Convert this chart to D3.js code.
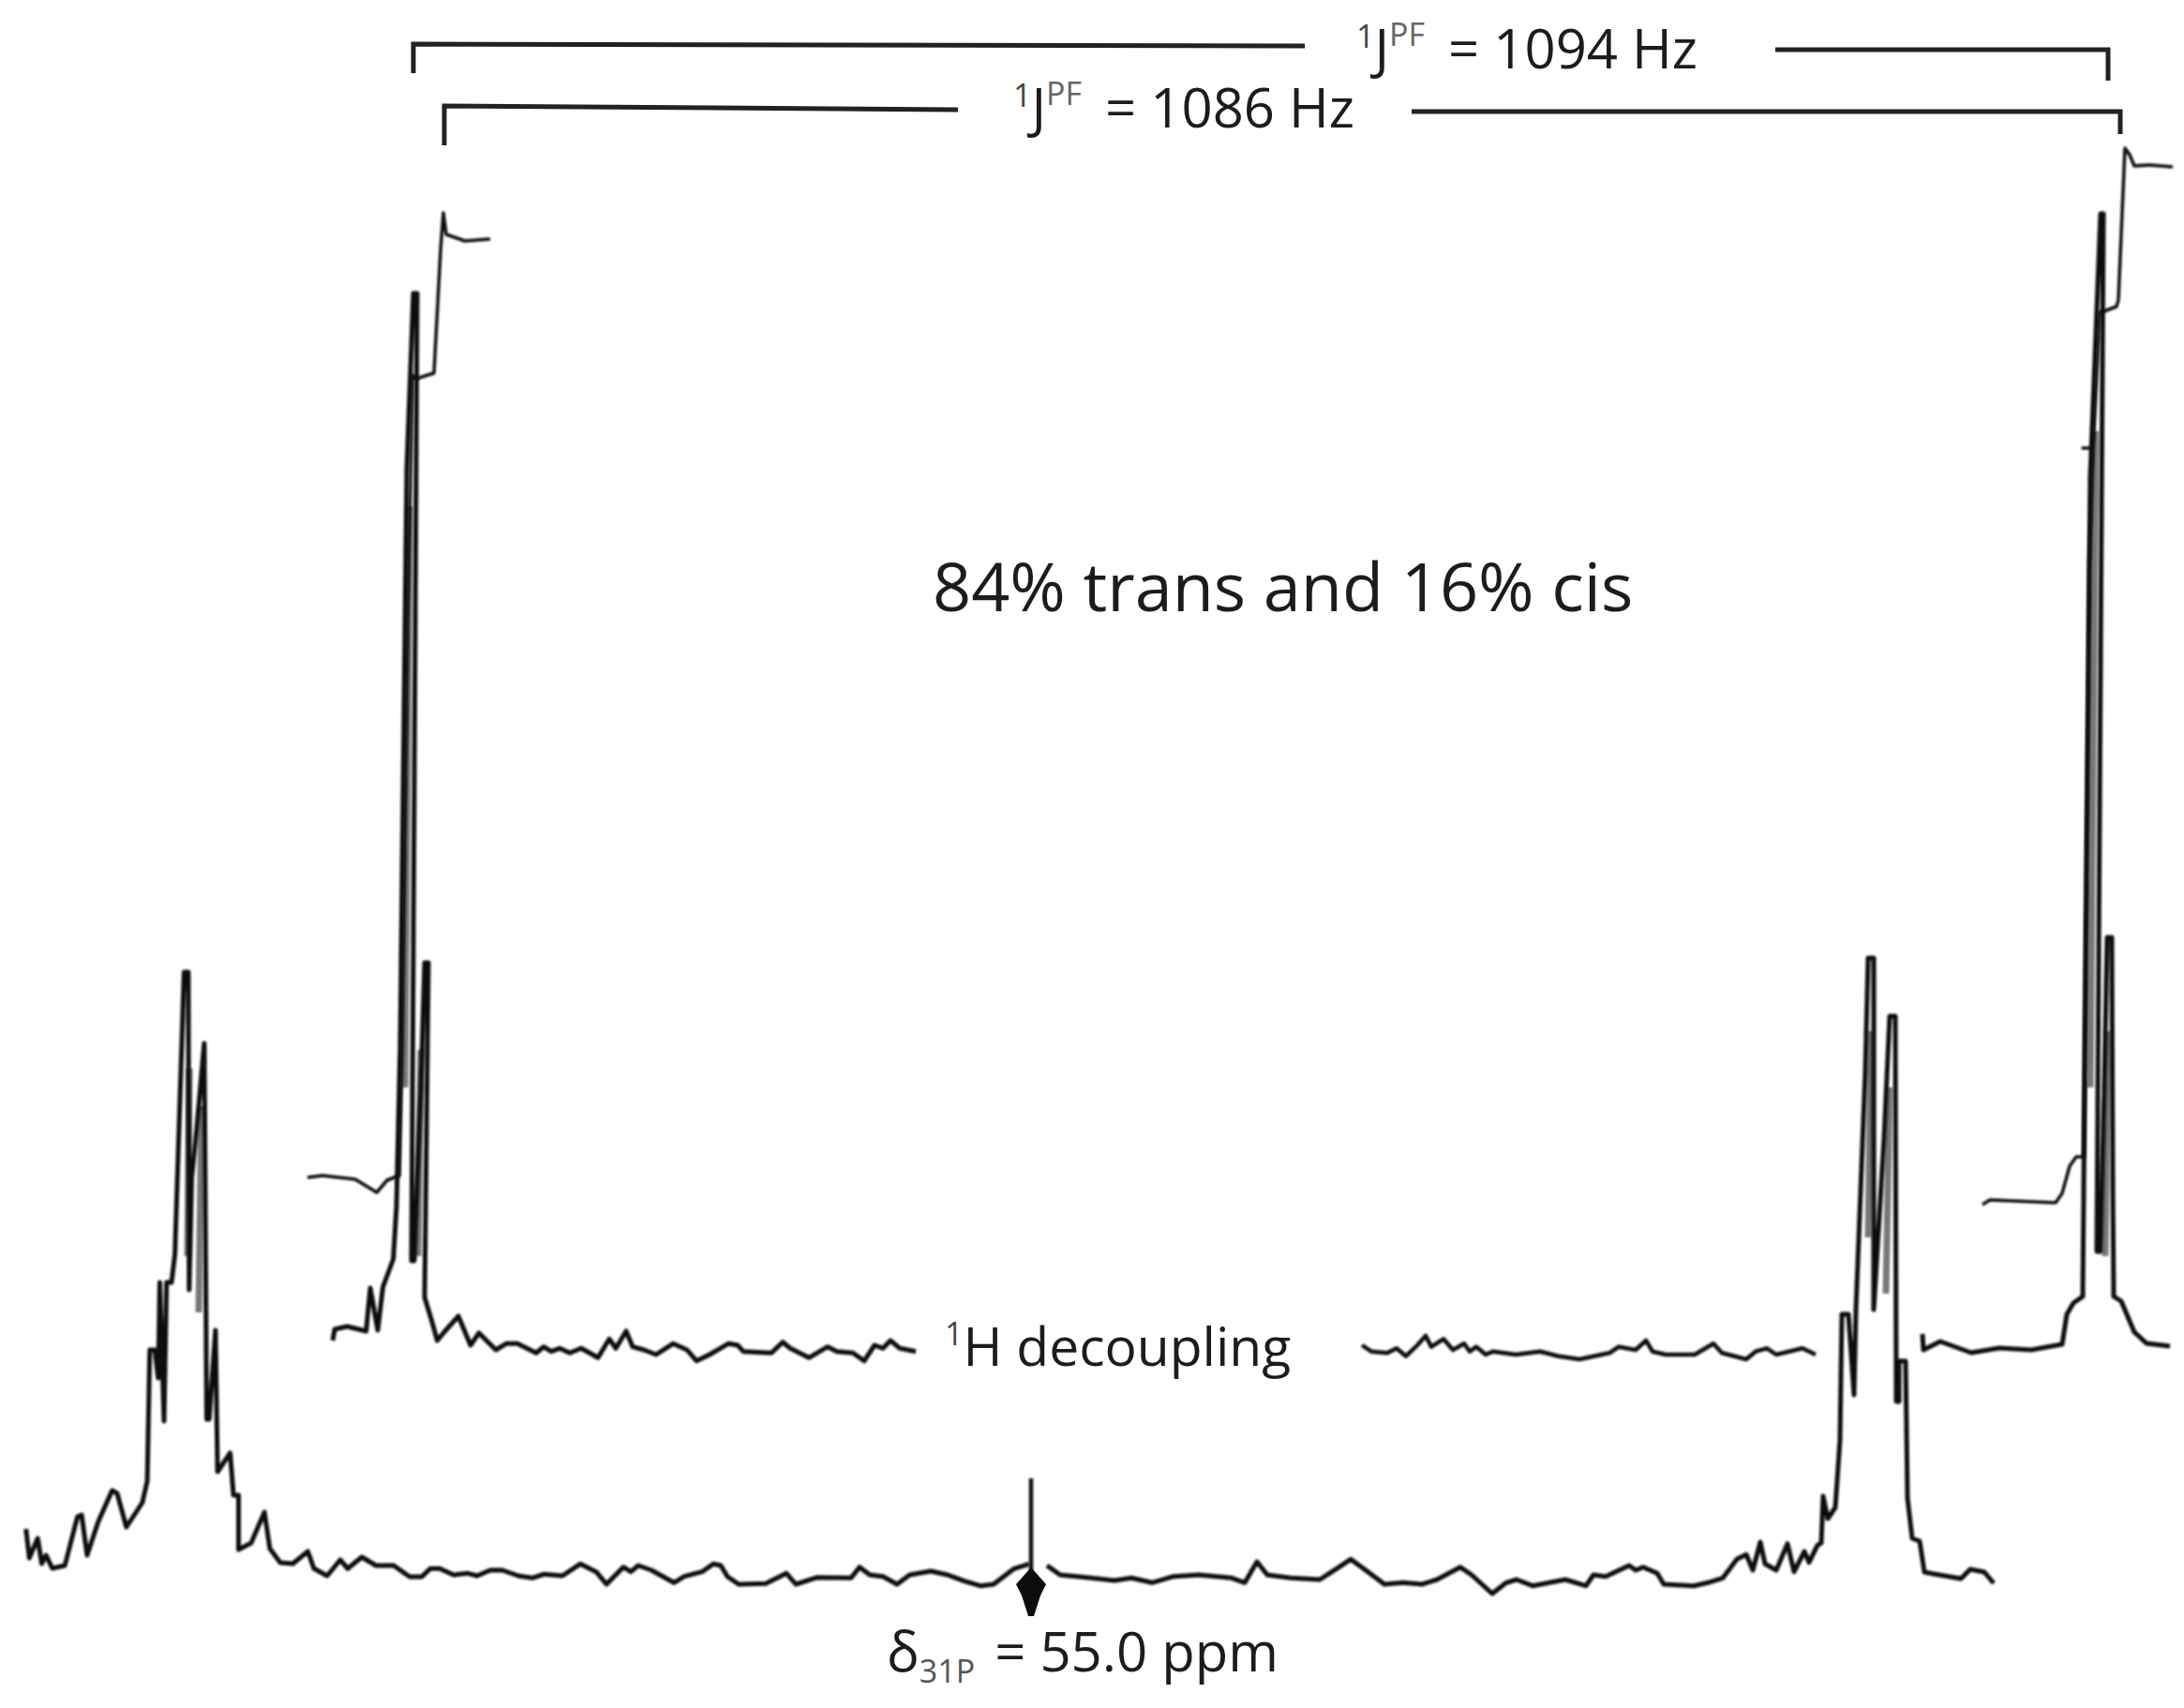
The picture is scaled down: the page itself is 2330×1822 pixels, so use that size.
<!DOCTYPE html>
<html>
<head>
<meta charset="utf-8">
<script src="https://cdn.jsdelivr.net/npm/d3@7"></script>
<style>
  html, body { margin: 0; background: #fff; }
  text { font-family: "Open Sans", sans-serif; fill: #1c1c1c; }
</style>
</head>
<body>
<div id="chart"></div>
<script>
// spectra: [chart position, intensity above the trace's own zero]
const lowerLeft = [
  [2.77,6.9],[3.13,3.8],[4.02,5.9],[4.46,3.2],[4.91,4.1],[5.58,2.7],[6.92,3.0],[8.26,8.2],[8.71,8.4],[9.29,4.1],
  [10.49,7.7],[11.96,11.0],[12.5,10.7],[13.48,7.1],[15.18,9.7],[15.71,12.0],[15.98,26.0],[16.52,26.0],[16.88,23.0],
  [17.05,33.2],[17.5,18.4],[17.77,33.2],[18.3,33.2],[18.66,36.2],[19.64,66.3],[20.09,66.3],[20.18,32.4],[20.45,44.4],
  [20.98,49.5],[21.79,58.7],[22.05,18.6],[22.32,18.6],[22.99,28.1],[23.21,13.0],[24.55,15.0],[24.91,10.5],[25.45,10.5],
  [25.45,4.7],[26.79,5.4],[28.21,8.7],[28.79,4.8],[29.91,3.3],[31.25,3.2],[32.84,4.5],[33.5,2.67],[34.9,1.9],
  [36.3,3.6],[37.1,2.67],[38.6,3.9],[40.1,3.0],[42.0,3.0],[43.7,1.8],[45.0,1.8],[45.9,2.67],[46.9,2.67],
  [48.4,2.0],[49.9,2.17],[50.9,1.9],[52.3,2.5],[53.6,2.5],[55.3,1.9],[56.8,1.67],[58.0,2.07],[60.0,1.9],
  [61.9,3.17],[63.6,2.33],[64.7,1.0],[66.5,2.83],[67.3,2.33],[68.1,3.0],[69.5,2.5],[71.9,1.17],[73.0,1.83],
  [74.9,2.33],[76.1,3.17],[76.9,3.0],[77.6,1.83],[78.8,1.0],[81.7,1.07],[83.9,2.17],[84.9,1.0],
  [87.2,1.73],[90.8,1.67],[91.7,2.83],[92.8,2.0],[94.2,1.83],[95.7,1.0],[97.05,2.0],[99.3,2.4],[101.1,2.0],
  [102.9,1.33],[104.6,0.83],[106.0,1.0],[108.2,2.67],[109.8,3.17]
];
const lowerRight = [
  [111.7,3.0],[113.1,2.0],[114.9,1.83],[117.1,1.6],[118.9,1.4],[120.7,1.67],[122.9,1.17],[125.2,1.83],[127.9,2.0],
  [131.4,1.67],[132.8,1.17],[134.1,3.4],[135.2,2.0],[137.7,1.67],[140.8,1.5],[142.6,2.67],[144.1,3.67],[145.7,2.5],
  [147.7,1.0],[149.7,1.17],[151.7,1.0],[153.3,1.5],[155.8,2.83],[157.0,2.0],[159.2,0.0],[160.7,1.17],[161.8,1.5],
  [163.5,0.83],[165.3,1.17],[167.0,1.5],[169.2,0.83],[170.0,2.0],[171.3,1.83],[173.8,3.0],[174.5,2.5],[175.3,2.83],
  [176.8,2.17],[177.5,1.0],[180.7,0.83],[182.2,1.17],[183.8,1.67],[185.3,3.67],[186.3,4.17],[187.0,2.5],[187.8,5.5],
  [188.3,3.17],[189.5,2.5],[190.7,5.33],[191.4,2.33],[192.5,4.5],[193.0,3.33],[193.9,5.17],[194.3,5.4],[194.5,10.4],
  [195.0,8.0],[195.8,9.2],[196.3,16.4],[196.5,29.8],[197.2,29.8],[197.8,21.2],[198.0,30.3],[199.0,55.6],[199.3,67.8],
  [199.9,67.8],[199.9,30.3],[200.3,37.0],[201.0,48.5],[201.6,61.6],[202.2,61.6],[202.3,20.5],[202.6,20.5],[202.6,24.8],
  [203.3,24.8],[203.5,10.2],[204.0,5.9],[204.8,5.6],[205.3,2.3],[206.3,2.1],[209.2,1.6],[210.2,2.6],[211.7,2.3],[212.7,1.1]
];
const upperLeft = [
  [35.5,3.0],[35.7,4.2],[37.05,4.5],[39.06,4.0],[39.5,8.6],[40.3,4.1],[40.85,8.7],[41.96,11.7],[42.3,17.3],[42.7,34.7],
  [43.4,96],[44.1,114.7],[44.5,114.7],[43.9,11.5],[44.2,11.5],[44.9,30],[45.3,43.3],[45.7,43.3],[45.3,7.6],[46.0,5.3],
  [46.65,3.0],[47.3,3.8],[48.9,5.6],[50.2,2.5],[51.1,3.8],[52.9,2.0],[54.0,2.67],[55.2,2.67],[57.2,1.67],[58.0,2.33],
  [58.8,1.83],[59.7,2.17],[60.8,1.67],[62.0,2.17],[63.8,1.17],[65.0,3.17],[65.7,2.17],[66.8,4.0],[67.5,2.33],[68.7,2.0],
  [70.0,1.5],[71.8,2.67],[73.3,2.0],[74.3,0.83],[75.7,1.5],[77.7,2.67],[78.7,2.5],[79.3,1.83],[82.3,1.67],[83.5,2.83],
  [84.3,2.17],[86.3,1.17],[88.3,2.33],[89.3,1.83],[91.0,1.67],[92.2,0.83],[93.3,2.5],[94.2,2.17],[95.0,3.0],[96.0,2.17],[97.7,1.83]
];
const upperMiddle = [
  [145.3,2.5],[146.3,1.83],[148.0,1.67],[149.0,2.17],[150.0,1.33],[151.2,2.5],[152.1,3.5],[152.7,2.33],[154.0,3.17],
  [155.0,2.0],[156.2,2.67],[156.8,1.83],[157.5,2.33],[158.5,1.5],[159.3,1.83],[161.7,1.5],[164.3,1.83],[166.3,1.33],
  [168.5,1.0],[171.7,1.67],[172.7,2.33],[174.5,2.0],[175.6,3.0],[176.3,1.83],[177.7,1.5],[180.8,1.5],[182.8,2.67],
  [183.7,1.67],[186.3,1.0],[187.3,1.83],[188.5,2.17],[189.5,1.5],[192.3,2.17],[193.7,1.5]
];
const upperRight = [
  [205.1,3.7],[205.2,2.0],[207.0,2.9],[210.3,1.7],[213.3,2.2],[216.7,2.0],[220.0,2.6],[220.5,5.8],[221.2,7.0],[222.2,7.7],
  [222.4,30],[223.0,95],[224.1,123.2],[224.4,123.2],[223.7,12.5],[224.1,12.5],[224.5,30],[224.8,46],[225.3,46],[225.4,20],
  [225.5,7.7],[226.3,7.2],[227.7,3.9],[229.0,2.7],[231.5,2.4]
];
const integralLeft = [
  [32.8,20.4],[34.4,20.6],[37.9,20.2],[40.2,18.8],[41.3,20.1],[42.6,20.6],[42.9,34.2],[43.5,80],[44.0,106],[44.4,105.6],
  [46.3,106.2],[47.0,119.3],[47.3,123.3],[47.6,121],[49.6,120.3],[52.3,120.5]
];
const integralRight = [
  [211.5,17.5],[212.3,18.0],[219.3,17.7],[220.0,18.7],[220.8,21.6],[221.5,22.6],[222.3,22.6],[222.9,85],[223.3,98.2],
  [222.2,98.2],[223.3,98.2],[224.0,112.7],[224.2,112.7],[225.8,113.3],[226.0,114],[226.7,130.2],[227.2,129.5],
  [227.7,128.3],[229.3,128.4],[231.8,128.2]
];
// ink smeared between the doublet lines on the scan
const lowerSmear = [
  [[20.0,36],[20.2,56]], [[21.2,30],[21.5,52]],
  [[199.3,38],[199.6,60]], [[201.2,32],[201.6,54]]
];
const upperSmear = [
  [[43.2,30],[43.7,92]], [[44.6,12],[44.9,34]],
  [[223.0,30],[223.6,100]], [[224.6,12],[224.9,36]]
];
const bracket1094 = [[[44.1,138.2],[44.1,141.3],[139.2,141.1]], [[189.4,140.7],[224.9,140.7],[224.9,137.4]]];
const bracket1086 = [[[47.4,130.5],[47.4,134.7],[102.2,134.3]], [[150.6,134.1],[226.2,134.1],[226.2,131.7]]];
const markerShaft = [[110.0,12.3],[110.0,2]];
const markerHead = [[110.0,2.8],[111.6,1.0],[111.0,-0.2],[110.3,-2.4],[109.7,-2.4],[109.0,-0.2],[108.4,1.0]];

const width = 2330, height = 1822;

const x = d3.scaleLinear().domain([0, 233]).range([0, width]);
// both traces share one intensity scale, shifted to their own zero
const yLower = d3.scaleLinear().domain([0, 170]).range([1700, 0]);
const yUpper = d3.scaleLinear().domain([0, 146]).range([1460, 0]);

const svg = d3.select('#chart').append('svg')
  .attr('width', width)
  .attr('height', height)
  .style('display', 'block');

// the original is a scan, so edges are a bit soft
const soft = svg.append('defs').append('filter')
  .attr('id', 'soft')
  .attr('filterUnits', 'userSpaceOnUse')
  .attr('x', 0).attr('y', 0)
  .attr('width', width).attr('height', height);
soft.append('feGaussianBlur').attr('stdDeviation', 0.8);

const lineOn = y => d3.line().x(d => x(d[0])).y(d => y(d[1]));

function drawTrace(points, y, w, color = '#0d0d0d') {
  svg.append('path')
    .attr('d', lineOn(y)(points))
    .attr('fill', 'none')
    .attr('stroke', color)
    .attr('stroke-width', w)
    .attr('stroke-linejoin', 'round')
    .attr('filter', 'url(#soft)');
}

lowerSmear.forEach(s => drawTrace(s, yLower, 7, '#777'));
upperSmear.forEach(s => drawTrace(s, yUpper, 7, '#777'));

drawTrace(lowerLeft, yLower, 5);
drawTrace(lowerRight, yLower, 5);
drawTrace(upperLeft, yUpper, 5);
drawTrace(upperMiddle, yUpper, 4.5);
drawTrace(upperRight, yUpper, 5);
drawTrace(integralLeft, yUpper, 3.5);
drawTrace(integralRight, yUpper, 3.5);

bracket1094.concat(bracket1086).forEach(seg => {
  svg.append('path')
    .attr('d', lineOn(yUpper)(seg))
    .attr('fill', 'none')
    .attr('stroke', '#222')
    .attr('stroke-width', 5)
    .attr('stroke-linejoin', 'miter');
});

// marker for the chemical shift
drawTrace(markerShaft, yLower, 4.5);
svg.append('path')
  .attr('d', lineOn(yLower)(markerHead) + 'Z')
  .attr('fill', '#0d0d0d');

function label(px, py, size, parts) {
  const t = svg.append('text')
    .attr('x', px)
    .attr('y', py)
    .attr('font-size', size);
  parts.forEach(p => {
    t.append('tspan')
      .attr('dx', p.dx || 0)
      .attr('dy', p.dy || 0)
      .attr('font-size', p.size || size)
      .attr('fill', p.fill || '#1c1c1c')
      .text(p.text);
  });
  return t;
}

// superscript first, then drop back to the baseline
label(1447, 73, 58, [
  {text: '1', size: 34, dy: -22, fill: '#444'},
  {text: 'J', dy: 22},
  {text: 'PF', size: 34, dy: -24, fill: '#666'},
  {text: ' = 1094 Hz', dy: 24, dx: 10}
]);
label(1081, 136, 58, [
  {text: '1', size: 34, dy: -22, fill: '#444'},
  {text: 'J', dy: 22},
  {text: 'PF', size: 34, dy: -24, fill: '#666'},
  {text: ' = 1086 Hz', dy: 24, dx: 10}
]);
label(995, 652, 72, [{text: '84% trans and 16% cis'}]);
label(1008, 1457, 57, [
  {text: '1', size: 34, dy: -22, fill: '#444'},
  {text: 'H decoupling', dy: 22}
]);
label(946, 1783, 58, [
  {text: 'δ'},
  {text: '31P', size: 34, dy: 12, fill: '#555'},
  {text: ' = 55.0 ppm', dy: -12, dx: 6}
]);
</script>
</body>
</html>
